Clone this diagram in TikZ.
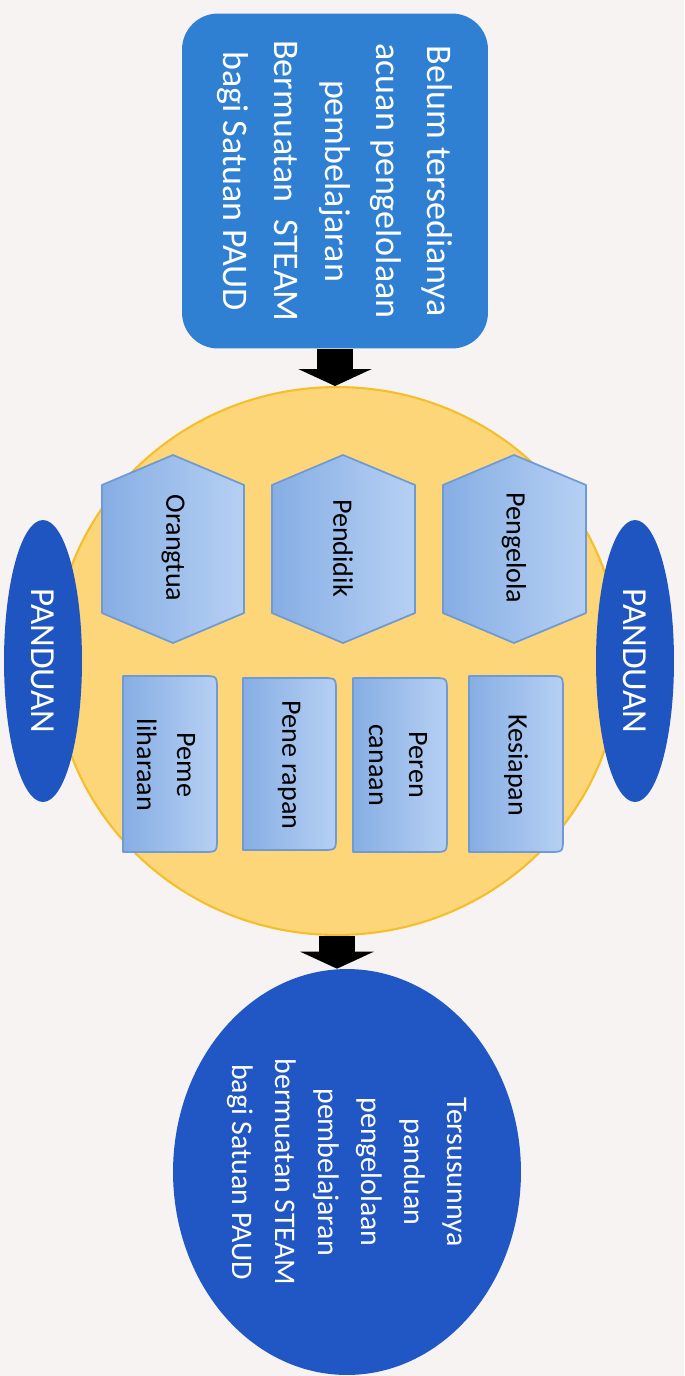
\documentclass[tikz,border=0pt]{standalone}
\usepackage{fontspec}
\setmainfont{Carlito}
\usepackage{xcolor}
\usepackage{tikz}
\usetikzlibrary{arrows.meta,shapes.geometric}
\definecolor{bgpaper}{HTML}{F7F3F3}
\definecolor{boxblue}{HTML}{2F80D3}
\definecolor{deepblue}{HTML}{1F55C0}
\definecolor{endblue}{HTML}{2157C5}
\definecolor{ringfill}{HTML}{FDD679}
\definecolor{ringline}{HTML}{F4BF2A}
\definecolor{hexleft}{HTML}{86AEE4}
\definecolor{hexright}{HTML}{B6D0F3}
\definecolor{hexline}{HTML}{6F9AD4}

\begin{document}
\begin{tikzpicture}[line cap=round,line join=round,x=0.02cm,y=-0.02cm,
	hexa/.style={draw=hexline,line width=1pt,left color=hexleft,right color=hexright},
	lab/.style={rotate=-90,font=\fontsize{16}{22.7}\selectfont,align=center,text=black},
	bigarr/.style={-{Triangle[width=1.46cm,length=0.34cm]},line width=0.72cm,line cap=butt},
	panduan/.style={ellipse,fill=deepblue,rotate=-90,minimum width=5.64cm,minimum height=1.56cm,inner sep=0pt,text=white,font=\fontsize{20}{24}\selectfont}]
	\fill[bgpaper] (0,0) rectangle (684,1376);
	\useasboundingbox (0,0) rectangle (684,1376);
	\node[rotate=-90,rounded corners=0.72cm,fill=boxblue,minimum width=6.7cm,minimum height=6.12cm,inner sep=0pt,text=white,align=center,font=\fontsize{20.5}{29}\selectfont] (topbox) at (335,181) {Belum tersedianya\\acuan pengelolaan\\pembelajaran\\Bermuatan\ \ STEAM\\bagi Satuan PAUD};
	\node[ellipse,draw=ringline,line width=1.2pt,fill=ringfill,minimum width=11.32cm,minimum height=10.96cm,inner sep=0pt] (ring) at (337,661) {};
	\node[ellipse,rotate=-90,fill=endblue,minimum width=8.12cm,minimum height=6.96cm,inner sep=0pt,text=white,align=center,font=\fontsize{17}{24.4}\selectfont] (result) at (347,1172) {Tersusunnya\\panduan\\pengelolaan\\pembelajaran\\bermuatan STEAM\\bagi Satuan PAUD};
	% hexagons
	\draw[hexa] (173,455) -- (244,485) -- (244,613) -- (173,643) -- (102,613) -- (102,485) -- cycle;
	\draw[hexa] (343,455) -- (415,485) -- (415,613) -- (343,643) -- (272,613) -- (272,485) -- cycle;
	\draw[hexa] (514,455) -- (586,485) -- (586,613) -- (514,643) -- (443,613) -- (443,485) -- cycle;
	% tabs
	\draw[hexa] (123,676) -- (203,676) .. controls (217,676) .. (217,690) -- (217,838) .. controls (217,852) .. (203,852) -- (123,852) -- cycle;
	\draw[hexa] (243,678) -- (322,678) .. controls (336,678) .. (336,692) -- (336,836) .. controls (336,850) .. (322,850) -- (243,850) -- cycle;
	\draw[hexa] (353,678) -- (433,678) .. controls (447,678) .. (447,692) -- (447,838) .. controls (447,852) .. (433,852) -- (353,852) -- cycle;
	\draw[hexa] (469,676) -- (549,676) .. controls (563,676) .. (563,690) -- (563,838) .. controls (563,852) .. (549,852) -- (469,852) -- cycle;
	\node[lab] (orangtua) at (173,548) {Orangtua};
	\node[lab] (pendidik) at (343,548) {Pendidik};
	\node[lab] (pengelola) at (514,548) {Pengelola};
	\node[lab] (pemeliharaan) at (166,765) {Peme\\liharaan};
	\node[lab] (penerapan) at (289,765) {Pene rapan};
	\node[lab] (perencanaan) at (398,765) {Peren\\canaan};
	\node[lab] (kesiapan) at (516,765) {Kesiapan};
	\node[panduan] (panduanL) at (43,661) {PANDUAN};
	\node[panduan] (panduanR) at (635,661) {PANDUAN};
	\draw[bigarr] (topbox.east) -- (topbox.east |- ring.north);
	\draw[bigarr] (ring.south) -- (ring.south |- result.west);
\end{tikzpicture}
\end{document}
